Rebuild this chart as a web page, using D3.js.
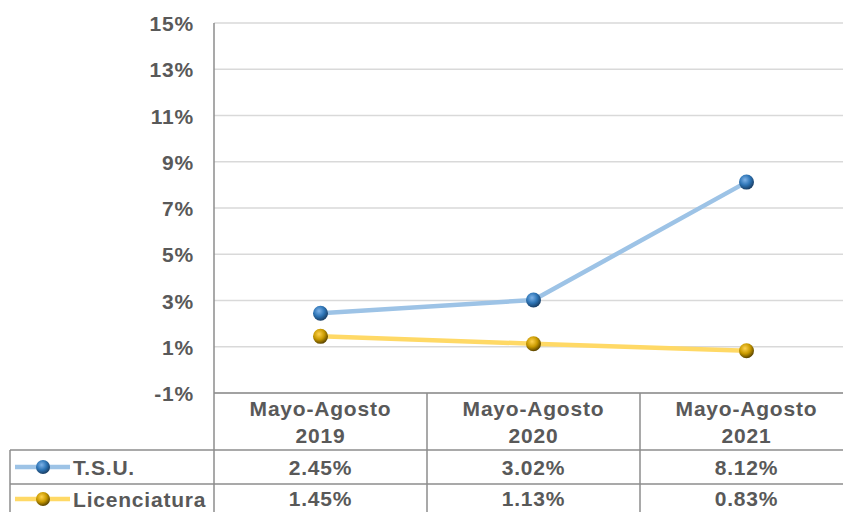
<!DOCTYPE html>
<html><head><meta charset="utf-8">
<script src="https://cdn.jsdelivr.net/npm/d3@7"></script>
<style>
html,body{margin:0;padding:0;background:#fff;}
svg text{font-family:"Liberation Sans",Arial,sans-serif;font-weight:bold;fill:#595959;}
</style></head>
<body>
<svg id="c" width="843" height="512"></svg>
<script>
const categories = ["Mayo-Agosto 2019", "Mayo-Agosto 2020", "Mayo-Agosto 2021"];
const tsu = [2.45, 3.02, 8.12];
const licenciatura = [1.45, 1.13, 0.83];
const tsuLabels = ["2.45%", "3.02%", "8.12%"];
const licLabels = ["1.45%", "1.13%", "0.83%"];
const yTicks = [-1, 1, 3, 5, 7, 9, 11, 13, 15];
const seriesNames = ["T.S.U.", "Licenciatura"];

(function () {
const svg = d3.select("#c");
const pL = 214, pR = 853, pT = 23, pB = 393;
const FS = "21px", LS = "0.8px";
const x = d3.scaleBand().domain(categories).range([pL, pR]);
const y = d3.scaleLinear().domain([-1, 15]).range([pB, pT]);

const defs = svg.append("defs");
function sphere(id, light, mid, dark) {
  const g = defs.append("radialGradient").attr("id", id)
    .attr("cx", "40%").attr("cy", "35%").attr("r", "65%");
  g.append("stop").attr("offset", "0%").attr("stop-color", light);
  g.append("stop").attr("offset", "55%").attr("stop-color", mid);
  g.append("stop").attr("offset", "100%").attr("stop-color", dark);
}
sphere("gBlue", "#7fb3e8", "#2e75b6", "#1a3f66");
sphere("gGold", "#ffd24d", "#c99a00", "#5e4700");

svg.append("g").selectAll("line").data(yTicks).join("line")
  .attr("x1", pL).attr("x2", 843)
  .attr("y1", d => y(d)).attr("y2", d => y(d))
  .attr("stroke", "#d9d9d9").attr("stroke-width", 1.5);

const yAxis = d3.axisLeft(y).tickValues(yTicks).tickFormat(d => d + "%").tickSize(0).tickPadding(20);
const ya = svg.append("g").attr("transform", `translate(${pL},0)`).call(yAxis);
ya.select(".domain").remove();
ya.selectAll("text").style("font-size", FS).style("letter-spacing", LS).attr("dy", "0.36em").attr("fill", "#595959")
  .attr("font-family", null);

const tableColor = "#8c8c8c";
const rowH = [393, 450, 484];
const tl = svg.append("g").attr("stroke", tableColor).attr("stroke-width", 1.5);
tl.append("line").attr("x1", pL).attr("x2", 843).attr("y1", rowH[0]).attr("y2", rowH[0]);
tl.append("line").attr("x1", 10).attr("x2", 843).attr("y1", rowH[1]).attr("y2", rowH[1]);
tl.append("line").attr("x1", 10).attr("x2", 843).attr("y1", rowH[2]).attr("y2", rowH[2]);
tl.append("line").attr("x1", 10).attr("x2", 10).attr("y1", rowH[1]).attr("y2", 512);
tl.append("line").attr("x1", pL).attr("x2", pL).attr("y1", pT).attr("y2", 512);
categories.slice(1).forEach(c => {
  tl.append("line").attr("x1", x(c)).attr("x2", x(c)).attr("y1", rowH[0]).attr("y2", 512);
});

const hdr = svg.append("g");
categories.forEach(c => {
  const parts = c.split(" ");
  const cx = x(c) + x.bandwidth() / 2;
  hdr.append("text").attr("x", cx).attr("y", 416).attr("text-anchor", "middle")
    .style("font-size", FS).style("letter-spacing", LS).text(parts[0]);
  hdr.append("text").attr("x", cx).attr("y", 443).attr("text-anchor", "middle")
    .style("font-size", FS).style("letter-spacing", LS).text(parts[1]);
});

const rows = [{vals: tsuLabels, yb: 475}, {vals: licLabels, yb: 506}];
rows.forEach(r => {
  categories.forEach((c, i) => {
    svg.append("text").attr("x", x(c) + x.bandwidth() / 2).attr("y", r.yb)
      .attr("text-anchor", "middle").style("font-size", FS).style("letter-spacing", LS)
      .text(r.vals[i]);
  });
});

const series = [
  {name: seriesNames[0], vals: tsu, line: "#9dc3e6", grad: "url(#gBlue)", rowY: 467},
  {name: seriesNames[1], vals: licenciatura, line: "#ffd966", grad: "url(#gGold)", rowY: 499}
];
const lineGen = d3.line().x((d, i) => x(categories[i]) + x.bandwidth() / 2).y(d => y(d));
series.slice().reverse().forEach(s => {
  svg.append("path").datum(s.vals).attr("d", lineGen)
    .attr("fill", "none").attr("stroke", s.line).attr("stroke-width", 4.5)
    .attr("stroke-linecap", "round").attr("stroke-linejoin", "round");
});
series.forEach(s => {
  svg.append("g").selectAll("circle").data(s.vals).join("circle")
    .attr("cx", (d, i) => x(categories[i]) + x.bandwidth() / 2)
    .attr("cy", d => y(d)).attr("r", 7.5).attr("fill", s.grad);
  svg.append("line").attr("x1", 15).attr("x2", 70).attr("y1", s.rowY).attr("y2", s.rowY)
    .attr("stroke", s.line).attr("stroke-width", 4.5);
  svg.append("circle").attr("cx", 43).attr("cy", s.rowY).attr("r", 7).attr("fill", s.grad);
  svg.append("text").attr("x", 73).attr("y", s.rowY + 8).style("font-size", FS)
    .style("letter-spacing", LS).text(s.name);
});
})();
</script>
</body></html>
